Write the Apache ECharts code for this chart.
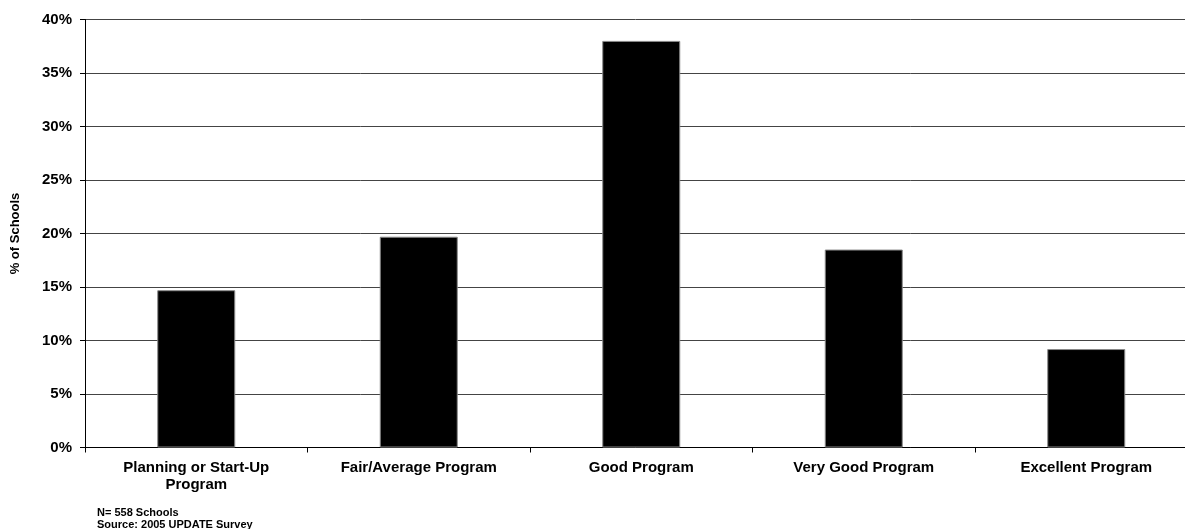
<!DOCTYPE html>
<html>
<head>
<meta charset="utf-8">
<script src="https://cdn.jsdelivr.net/npm/echarts@6/dist/echarts.min.js"></script>
<style>
  html, body { margin: 0; padding: 0; background: #fff; }
  #chart { width: 1185px; height: 529px; }
</style>
</head>
<body>
<div id="chart"></div>
<script>
const categories = ['Planning or Start-Up\nProgram', 'Fair/Average Program', 'Good Program', 'Very Good Program', 'Excellent Program'];
const shares = [14.7, 19.7, 38.0, 18.5, 9.2];
const yTicks = [0, 5, 10, 15, 20, 25, 30, 35, 40];
const notes = ['N= 558 Schools', 'Source: 2005 UPDATE Survey'];

const font = 'Liberation Sans, Arial, sans-serif';
const chart = echarts.init(document.getElementById('chart'));

// plot runs a little past the right edge, like the cropped original
const option = {
    animation: false,
    grid: { left: 85, top: 19.5, right: -12.5, height: 428, outerBoundsMode: 'none' },
    xAxis: {
        type: 'category',
        data: categories,
        axisLine: { lineStyle: { color: '#000', width: 1 } },
        axisTick: { show: true, length: 5, lineStyle: { color: '#000' } },
        axisLabel: {
            color: '#000', fontFamily: font, fontWeight: 'bold', fontSize: 15,
            lineHeight: 17, margin: 12, interval: 0
        }
    },
    yAxis: {
        type: 'value',
        min: yTicks[0],
        max: yTicks[yTicks.length - 1],
        interval: 5,
        name: '% of Schools',
        nameLocation: 'middle',
        nameGap: 63,
        nameTextStyle: { color: '#000', fontFamily: font, fontWeight: 'bold', fontSize: 13 },
        axisLine: { show: true, lineStyle: { color: '#000', width: 1 } },
        axisTick: { show: true, length: 5, lineStyle: { color: '#000' } },
        axisLabel: {
            color: '#000', fontFamily: font, fontWeight: 'bold', fontSize: 15, margin: 13,
            formatter: v => v + '%'
        },
        splitLine: { show: true, lineStyle: { color: '#444', width: 1 } }
    },
    series: [{
        type: 'bar',
        data: shares,
        barWidth: 78,
        itemStyle: { color: '#000', borderColor: '#888', borderWidth: 1 }
    }],
    graphic: notes.map((t, i) => ({
        type: 'text',
        left: 97,
        top: 507 + i * 12,
        style: { text: t, fill: '#000', font: 'bold 11px ' + font }
    }))
};
chart.setOption(option);
</script>
</body>
</html>
